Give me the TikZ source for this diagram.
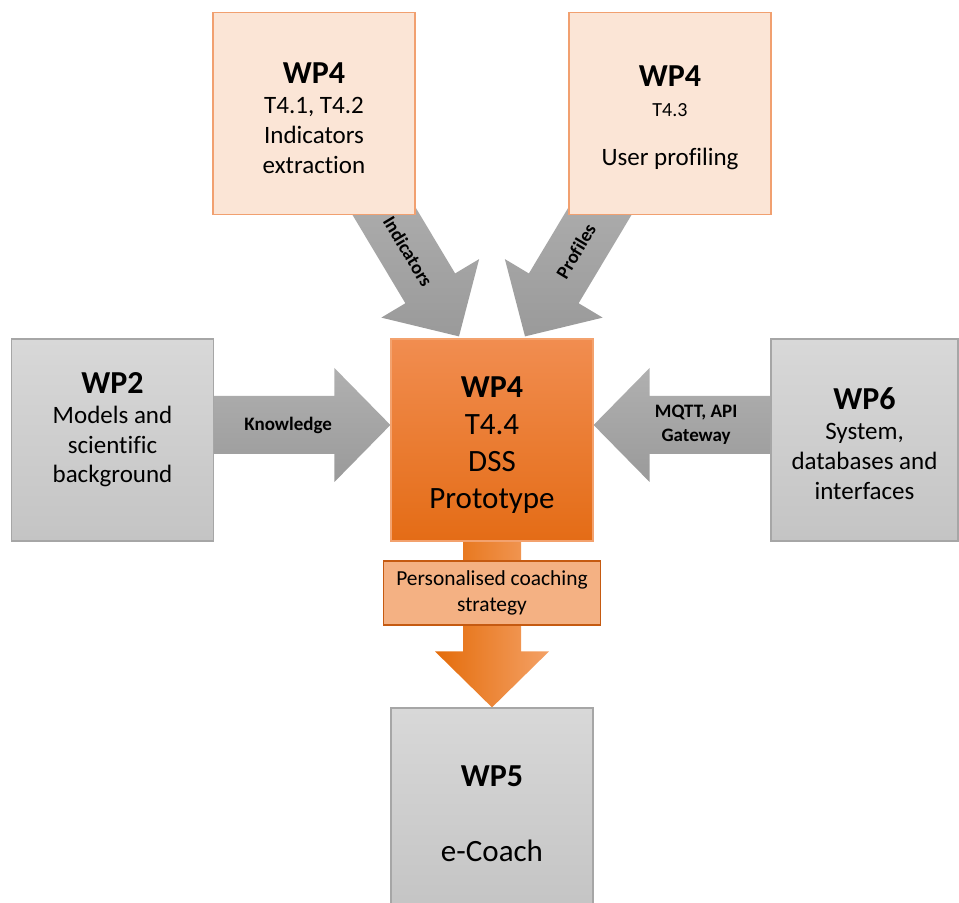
\documentclass[tikz,border=0pt]{standalone}
\usepackage{fontspec}
\setmainfont{Carlito}[Ligatures=NoCommon]
\usetikzlibrary{calc,positioning,backgrounds}
\definecolor{peach}{HTML}{FBE5D6}
\definecolor{peachline}{HTML}{F1A070}
\definecolor{greytop}{HTML}{D8D8D8}
\definecolor{greybot}{HTML}{C4C4C4}
\definecolor{greyline}{HTML}{A6A6A6}
\definecolor{dsstop}{HTML}{F18D50}
\definecolor{dssbot}{HTML}{E46C16}
\definecolor{dssline}{HTML}{F3A26E}
\definecolor{arrowtop}{HTML}{B0B0B0}
\definecolor{arrowbot}{HTML}{9A9A9A}
\definecolor{outleft}{HTML}{E46C0A}
\definecolor{outmid}{HTML}{F5883A}
\definecolor{outright}{HTML}{F4A166}
\definecolor{strat}{HTML}{F4B183}
\definecolor{stratline}{HTML}{C55A11}
\newcommand{\wphead}[1]{{\fontsize{16}{15}\selectfont\bfseries\rule{0pt}{15pt}#1}}

\begin{document}
\begin{tikzpicture}[x=0.5pt,y=-0.5pt,
    box/.style={minimum width=101pt,minimum height=101pt,inner sep=0pt,align=center,line width=0.6pt,font=\fontsize{12.5}{15}\selectfont},
    task/.style={box,draw=peachline,fill=peach},
    plainbox/.style={box,draw=greyline,top color=greytop,bottom color=greybot},
    dssbox/.style={box,draw=dssline,top color=dsstop,bottom color=dssbot,font=\fontsize{15.5}{18.5}\selectfont},
    fat/.style={to path={
        ($(\tikztotarget)!28pt!(\tikztostart)$) coordinate (fatH)
        ($(\tikztostart)!14.5pt!90:(\tikztotarget)$)
        -- ($(fatH)!14.5pt!90:(\tikztotarget)$)
        -- ($(fatH)!28.5pt!90:(\tikztotarget)$)
        -- (\tikztotarget)
        -- ($(fatH)!28.5pt!-90:(\tikztotarget)$)
        -- ($(fatH)!14.5pt!-90:(\tikztotarget)$)
        -- ($(\tikztostart)!14.5pt!-90:(\tikztotarget)$)
        -- cycle
        (\tikztostart) -- (\tikztotarget) \tikztonodes}},
    inflow/.style={fat,top color=arrowtop,bottom color=arrowbot},
    outflow/.style={fat,left color=outleft,middle color=outmid,right color=outright},
    lbl/.style={font=\fontsize{9.5}{12}\selectfont\bfseries,align=center,sloped,inner sep=0pt,text=black},
    strat/.style={draw=stratline,fill=strat,line width=0.6pt,minimum width=108.5pt,minimum height=32pt,align=center,inner sep=0pt,font=\fontsize{10.7}{13}\selectfont}]
    \useasboundingbox (0,0) rectangle (959,903);
    \clip (0,0) rectangle (959,903);

    % work packages
    \node[task] (wpA) at (314,113.5) {\wphead{WP4}\\T4.1, T4.2\\Indicators\\extraction};
    \node[task] (wpB) at (670,113.5) {\wphead{WP4}\\{\fontsize{10}{15}\selectfont T4.3}\\[9.5pt]User profiling};
    \node[plainbox] (wp2) at (112.5,440) {\wphead{WP2}\\Models and\\scientific\\background\\[2pt]\mbox{}};
    \node[dssbox] (dss) at (492,440) {\wphead{WP4}\\T4.4\\DSS\\Prototype};
    \node[plainbox,minimum width=93.5pt] (wp6) at (864.5,440) {\wphead{WP6}\\System,\\databases and\\interfaces};
    \node[plainbox] (wp5) at (492,809) {\wphead{WP5}\\[22.5pt]{\fontsize{15.5}{15}\selectfont e-Coach}};

    % arrow ends
    \coordinate (kTail) at ($(wp2.east)+(0,-15)$);
    \coordinate (kTip) at ($(dss.west)+(0,-15)$);
    \coordinate (mTail) at ($(wp6.west)+(0,-15)$);
    \coordinate (mTip) at ($(dss.east)+(0,-15)$);
    \coordinate (iTip) at ($(dss.north)+(-33,-2)$);
    \coordinate (iTail) at ($(iTip)+(-91,-152)$);
    \coordinate (pTip) at ($(dss.north)+(33,-2)$);
    \coordinate (pTail) at ($(pTip)+(91,-152)$);
    \coordinate (cTail) at (dss.south);
    \coordinate (cTip) at (wp5.north);

    \begin{scope}[on background layer]
    \path[inflow] (iTail) to node[lbl,pos=0.44] {Indicators} (iTip);
    \path[inflow] (pTail) to node[lbl,pos=0.44] {Profiles} (pTip);
    \path[inflow] (kTail) to node[lbl,pos=0.42] {Knowledge} (kTip);
    \path[inflow] (mTail) to node[lbl,pos=0.42] {MQTT, API\\Gateway} (mTip);
    \path[outflow] (cTail) to node[strat,pos=0.31] (pcs) {Personalised coaching\\strategy} (cTip);
    \end{scope}
\end{tikzpicture}
\end{document}
